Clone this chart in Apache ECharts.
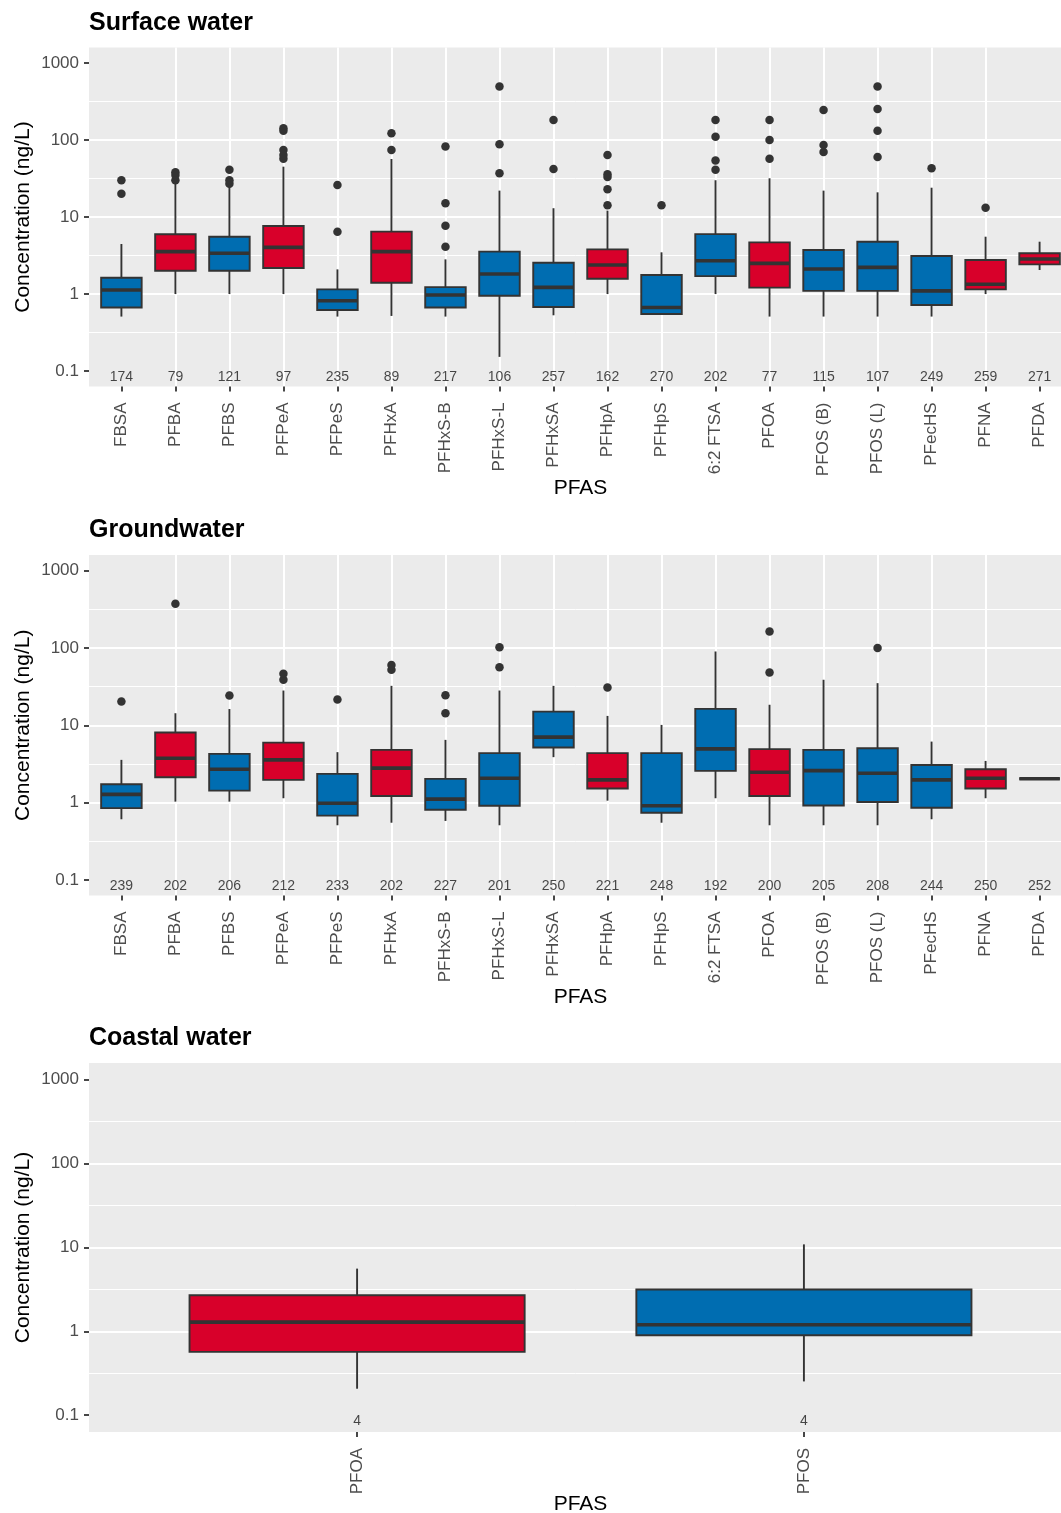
<!DOCTYPE html>
<html><head><meta charset="utf-8">
<script src="https://cdn.jsdelivr.net/npm/echarts@6/dist/echarts.min.js"></script>
<style>html,body{margin:0;padding:0;background:#fff}#c{width:1061px;height:1513px}</style>
</head><body><div id="c"></div>
<script>
// ---------------- data ----------------
const pfasCats = ['FBSA','PFBA','PFBS','PFPeA','PFPeS','PFHxA','PFHxS-B','PFHxS-L','PFHxSA','PFHpA','PFHpS','6:2 FTSA','PFOA','PFOS (B)','PFOS (L)','PFecHS','PFNA','PFDA'];
const coastalCats = ['PFOA','PFOS'];
const carboxylicCats = ['PFBA','PFPeA','PFHxA','PFHpA','PFOA','PFNA','PFDA']; // drawn red, others blue

// [lower whisker, Q1, median, Q3, upper whisker] in ng/L
const surfaceStats = [
  [0.51,0.67,1.13,1.63,4.46],[1.0,2.01,3.55,5.96,27.5],[1.0,2.01,3.38,5.55,24.8],[1.0,2.18,4.04,7.64,45],
  [0.51,0.62,0.82,1.15,2.09],[0.52,1.40,3.55,6.45,56.6],[0.51,0.67,0.97,1.23,2.82],[0.153,0.95,1.82,3.55,22],
  [0.53,0.68,1.22,2.55,13],[1.0,1.58,2.38,3.8,12.1],[0.54,0.55,0.67,1.77,3.48],[1.0,1.71,2.71,6.0,30],
  [0.51,1.21,2.5,4.69,31.8],[0.51,1.1,2.11,3.73,22],[0.51,1.1,2.22,4.78,20.9],[0.51,0.72,1.1,3.12,24],
  [1.0,1.15,1.34,2.77,5.55],[2.05,2.43,2.85,3.38,4.78]
];
const surfaceOutliers = [
  [20,30],[30,35,38],[27,30,41],[57,64,74,132,142],[6.45,26],[74,122],[4.1,7.7,15.1,82],[37,88,493],
  [42,182],[14.2,23,33,36,64],[14.2],[41,54,110,182],[57,100,182],[70,86,245],[60,132,253,493],[43],[13.2],[]
];
const surfaceN = [174,79,121,97,235,89,217,106,257,162,270,202,77,115,107,249,259,271];

const groundStats = [
  [0.61,0.85,1.28,1.73,3.57],[1.03,2.13,3.75,8.05,14.3],[1.03,1.43,2.7,4.27,16.2],[1.14,1.97,3.57,5.97,28.1],
  [0.51,0.68,0.98,2.35,4.49],[0.55,1.22,2.79,4.81,32.3],[0.58,0.81,1.11,2.03,6.47],[0.51,0.91,2.07,4.36,28.1],
  [3.87,5.15,7.02,15.0,32.3],[1.06,1.52,1.97,4.36,13.2],[0.55,0.74,0.91,4.36,10.1],[1.14,2.57,4.95,16.3,89.8],
  [0.51,1.22,2.47,4.91,18.4],[0.51,0.92,2.59,4.81,38.7],[0.51,1.02,2.4,5.05,35],[0.61,0.86,1.97,3.07,6.15],
  [1.14,1.52,2.07,2.7,3.46],[2.04,2.04,2.04,2.04,2.04]
];
const groundOutliers = [
  [20.3],[372],[24.2],[38.7,46.2],[21.5],[52,60],[14.3,24.5],[56,102],[],[30.7],[],[],[48,163],[],[99.4],[],[],[]
];
const groundN = [239,202,206,212,233,202,227,201,250,221,248,192,200,205,208,244,250,252];

const coastalStats = [[0.207,0.57,1.29,2.69,5.6],[0.253,0.9,1.2,3.15,10.9]];
const coastalOutliers = [[],[]];
const coastalN = [4,4];

const yTickValues = [0.1,1,10,100,1000];
const yTickLabels = ['0.1','1','10','100','1000'];

// ---------------- style / layout ----------------
const RED = '#D8002A', BLUE = '#006DB1', INK = '#333333';
const FONT = 'Liberation Sans, Arial, sans-serif';
const BOX_W = 0.75;
const panels = [
  {title:'Surface water', cats:pfasCats, stats:surfaceStats, out:surfaceOutliers, n:surfaceN, top:47.5, height:339, nameGap:91},
  {title:'Groundwater', cats:pfasCats, stats:groundStats, out:groundOutliers, n:groundN, top:555, height:340.5, nameGap:91},
  {title:'Coastal water', cats:coastalCats, stats:coastalStats, out:coastalOutliers, n:coastalN, top:1063, height:369, nameGap:62}
];
const LEFT = 89, WIDTH = 983;
const lg = v => Math.log10(v);
const ticksLog = yTickValues.map(lg);

function renderBox(params, api) {
  const x = api.value(0);
  const lo = api.coord([x, api.value(1)]);
  const q1 = api.coord([x, api.value(2)]);
  const md = api.coord([x, api.value(3)]);
  const q3 = api.coord([x, api.value(4)]);
  const hi = api.coord([x, api.value(5)]);
  const w = api.size([BOX_W, 0])[0];
  const fill = api.value(6) ? RED : BLUE;
  const cx = lo[0];
  return {type:'group', children:[
    {type:'line', shape:{x1:cx, y1:lo[1], x2:cx, y2:q1[1]}, style:{stroke:INK, lineWidth:1.9}},
    {type:'line', shape:{x1:cx, y1:q3[1], x2:cx, y2:hi[1]}, style:{stroke:INK, lineWidth:1.9}},
    {type:'rect', shape:{x:cx - w/2, y:q3[1], width:w, height:q1[1]-q3[1]}, style:{fill:fill, stroke:INK, lineWidth:1.9}},
    {type:'line', shape:{x1:cx - w/2, y1:md[1], x2:cx + w/2, y2:md[1]}, style:{stroke:INK, lineWidth:3.6}}
  ]};
}

const option = {
  backgroundColor:'#ffffff', animation:false,
  title:[], grid:[], xAxis:[], yAxis:[], series:[]
};

panels.forEach((p, k) => {
  const n = p.cats.length;
  option.title.push({text:p.title, left:LEFT, top:p.top - 37, padding:0,
    textStyle:{fontFamily:FONT, fontSize:25, fontWeight:'bold', color:'#000'}});
  option.grid.push({left:LEFT, top:p.top, width:WIDTH, height:p.height, show:true,
    backgroundColor:'#EBEBEB', borderWidth:0, containLabel:false, outerBoundsMode:'none'});
  option.xAxis.push({type:'value', gridIndex:k, min:-0.6, max:n - 0.4, minInterval:1, maxInterval:1,
    name:'PFAS', nameLocation:'middle', nameGap:p.nameGap, nameMoveOverlap:false,
    nameTextStyle:{fontFamily:FONT, fontSize:21, color:'#000'},
    axisLine:{show:false, onZero:false},
    axisTick:{show:true, length:5, lineStyle:{color:INK, width:1.8}, customValues:p.cats.map((c,i)=>i)},
    axisLabel:{show:true, rotate:90, margin:16, fontFamily:FONT, fontSize:17, color:'#4D4D4D',
      customValues:p.cats.map((c,i)=>i),
      formatter:v => { const r = Math.round(v); return Math.abs(r - v) < 1e-6 && p.cats[r] !== undefined ? p.cats[r] : ''; }},
    splitLine:{show:true, showMinLine:false, showMaxLine:false, lineStyle:{color:'#FFFFFF', width:2}}
  });
  option.yAxis.push({type:'value', gridIndex:k, min:-1.2, max:3.2, minInterval:1, maxInterval:1,
    name:'Concentration (ng/L)', nameLocation:'middle', nameGap:55, nameMoveOverlap:false,
    nameTextStyle:{fontFamily:FONT, fontSize:21, color:'#000'},
    axisLine:{show:false, onZero:false},
    axisTick:{show:true, length:5, lineStyle:{color:INK, width:1.8}, customValues:ticksLog},
    axisLabel:{show:true, margin:10, fontFamily:FONT, fontSize:17, color:'#4D4D4D', customValues:ticksLog,
      formatter:v => { const i = ticksLog.findIndex(t => Math.abs(t - v) < 1e-6); return i >= 0 ? yTickLabels[i] : ''; }},
    splitLine:{show:true, showMinLine:false, showMaxLine:false, lineStyle:{color:'#FFFFFF', width:2}},
    minorTick:{show:false, splitNumber:2},
    minorSplitLine:{show:true, lineStyle:{color:'#FFFFFF', width:1}}
  });
  option.series.push({type:'custom', xAxisIndex:k, yAxisIndex:k, renderItem:renderBox, z:3, silent:true,
    encode:{x:0, y:[1,2,3,4,5]},
    data:p.stats.map((s, i) => [i, lg(s[0]), lg(s[1]), lg(s[2]), lg(s[3]), lg(s[4]), carboxylicCats.includes(p.cats[i]) ? 1 : 0])});
  const pts = [];
  p.out.forEach((arr, i) => arr.forEach(v => pts.push([i, lg(v)])));
  option.series.push({type:'scatter', xAxisIndex:k, yAxisIndex:k, z:4, silent:true, symbolSize:8.5,
    itemStyle:{color:INK, opacity:1}, data:pts});
  option.series.push({type:'scatter', xAxisIndex:k, yAxisIndex:k, z:5, silent:true, symbolSize:1,
    itemStyle:{color:'rgba(0,0,0,0)'},
    label:{show:true, position:'inside', offset:[0,6], fontFamily:FONT, fontSize:14, color:'#1A1A1A',
      formatter:q => String(q.data[2])},
    data:p.n.map((c, i) => [i, lg(yTickValues[0]), c])});
});

const chart = echarts.init(document.getElementById('c'), null, {renderer:'canvas'});
chart.setOption(option);
</script></body></html>
